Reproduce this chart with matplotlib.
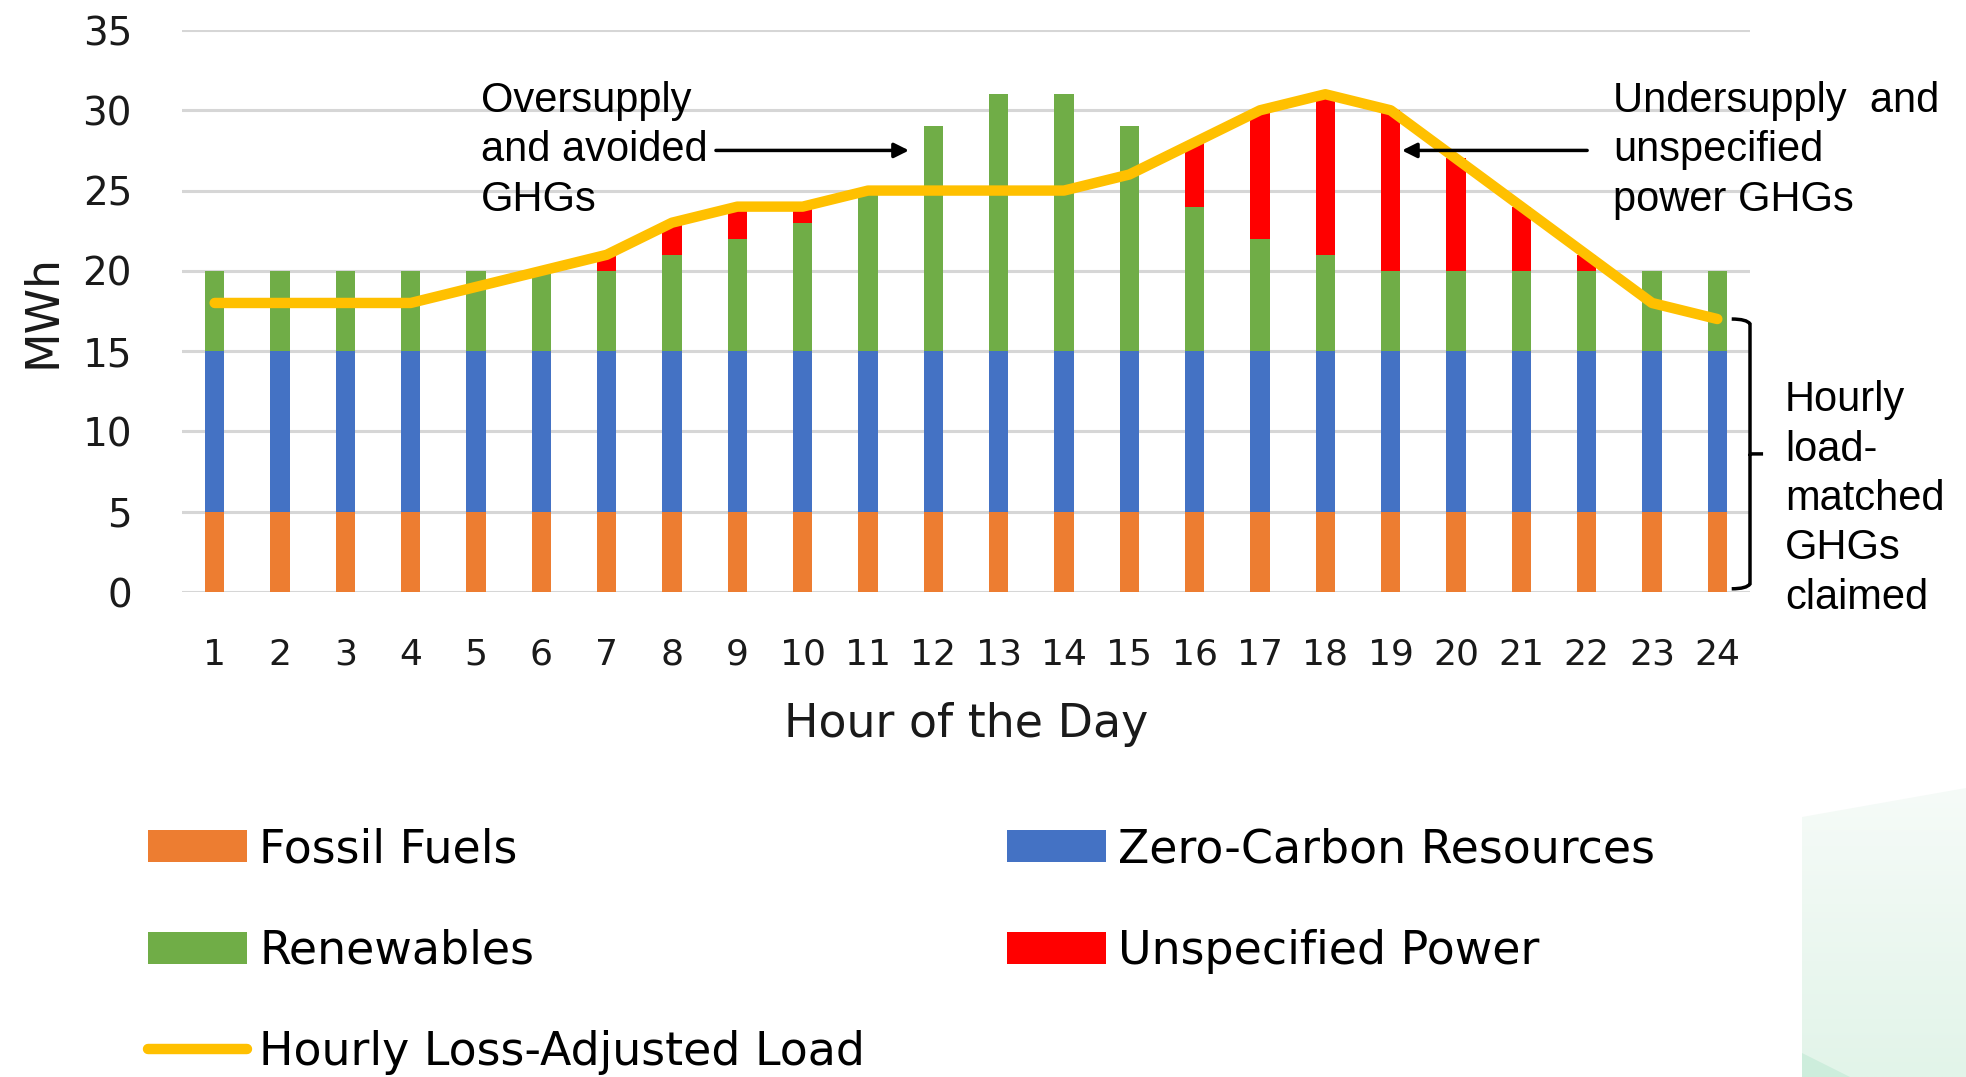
import matplotlib
matplotlib.use("Agg")
import matplotlib.pyplot as plt
import numpy as np
from matplotlib.patches import Polygon, PathPatch
from matplotlib.path import Path
from matplotlib.colors import LinearSegmentedColormap

hours = list(range(1, 25))
fossil = [5] * 24
zero_carbon = [10] * 24
renewables = [5, 5, 5, 5, 5, 5, 5, 6, 7, 8, 10, 14, 16, 16, 14, 9, 7, 6, 5, 5, 5, 5, 5, 5]
unspecified = [0, 0, 0, 0, 0, 0, 1, 2, 2, 1, 0, 0, 0, 0, 0, 4, 8, 10, 10, 7, 4, 1, 0, 0]
load = [18, 18, 18, 18, 19, 20, 21, 23, 24, 24, 25, 25, 25, 25, 26, 28, 30, 31, 30, 27, 24, 21, 18, 17]
yticks = [0, 5, 10, 15, 20, 25, 30, 35]

c_fossil = "#ED7D31"
c_zero = "#4472C4"
c_ren = "#70AD47"
c_uns = "#FF0000"
c_load = "#FFC000"

W, H = 1966, 1077
fig = plt.figure(figsize=(W / 100, H / 100), dpi=100)

# decorative background shape (bottom right)
bg = fig.add_axes([0, 0, 1, 1], zorder=-10)
bg.set_xlim(0, W)
bg.set_ylim(H, 0)
bg.axis("off")
grad = np.linspace(0, 1, 256).reshape(-1, 1)
cm = LinearSegmentedColormap.from_list("g", ["#F6FBF8", "#E2F4E9"])
im = bg.imshow(grad, cmap=cm, extent=[1802, W, H, 788], aspect="auto", zorder=0)
clip = Polygon([[1802, 817], [W, 788], [W, H], [1802, H]], closed=True, transform=bg.transData)
im.set_clip_path(clip)
bg.add_patch(Polygon([[1802, 1053], [1850, H], [1802, H]], closed=True, facecolor="#CDEDDC", edgecolor="none"))

ax = fig.add_axes([182 / W, 1 - 592 / H, (1750 - 182) / W, (592 - 30) / H])
x = np.array(hours)
bw = 0.3
b1 = ax.bar(x, fossil, bw, color=c_fossil, zorder=2, label="Fossil Fuels")
b2 = ax.bar(x, zero_carbon, bw, bottom=fossil, color=c_zero, zorder=2, label="Zero-Carbon Resources")
base2 = np.array(fossil) + np.array(zero_carbon)
b3 = ax.bar(x, renewables, bw, bottom=base2, color=c_ren, zorder=2, label="Renewables")
base3 = base2 + np.array(renewables)
b4 = ax.bar(x, unspecified, bw, bottom=base3, color=c_uns, zorder=2, label="Unspecified Power")
ln, = ax.plot(x, load, color=c_load, lw=7.5, solid_capstyle="round", solid_joinstyle="round", zorder=3,
              label="Hourly Loss-Adjusted Load")

ax.set_xlim(0.5, 24.5)
ax.set_ylim(0, 35)
ax.set_yticks(yticks)
ax.set_xticks(hours)
ax.yaxis.grid(True, color="#D6D6D6", lw=2.2, zorder=0)
ax.set_axisbelow(True)
for s in ax.spines.values():
    s.set_visible(False)
ax.tick_params(length=0)
ax.tick_params(axis="y", labelsize=28, pad=36)
ax.tick_params(axis="x", labelsize=26, pad=33)
for lab in ax.get_xticklabels() + ax.get_yticklabels():
    lab.set_color("#1a1a1a")
ax.set_xlabel("Hour of the Day", fontsize=33, labelpad=22, color="#1a1a1a")
ax.set_ylabel("MWh", fontsize=33, labelpad=12, color="#1a1a1a")

afont = dict(family="Liberation Sans", fontsize=30, color="black", linespacing=1.3)
ax.text(5.08, 27.5, "Oversupply\nand avoided\nGHGs", ha="left", va="center", **afont)
ax.annotate("", xy=(11.67, 27.5), xytext=(8.63, 27.5),
            arrowprops=dict(arrowstyle="-|>", color="black", lw=2.5, mutation_scale=22))
ax.text(22.41, 27.5, "Undersupply  and\nunspecified\npower GHGs", ha="left", va="center", **afont)
ax.annotate("", xy=(19.13, 27.5), xytext=(22.05, 27.5),
            arrowprops=dict(arrowstyle="-|>", color="black", lw=2.5, mutation_scale=22))

# brace
xv, xh, xt = 24.5, 24.22, 24.7
yt, yb, ym = 17.0, 0.2, 8.6
verts = [(xh, yt), (xv - 0.05, yt), (xv, yt - 0.3), (xv, ym + 0.2), (xv, ym), (xt, ym),
         (xv, ym), (xv, yb + 0.3), (xv - 0.05, yb), (xh, yb)]
codes = [Path.MOVETO, Path.CURVE3, Path.CURVE3, Path.LINETO, Path.LINETO, Path.LINETO,
         Path.MOVETO, Path.LINETO, Path.CURVE3, Path.CURVE3]
ax.add_patch(PathPatch(Path(verts, codes), facecolor="none", edgecolor="black", lw=2.5, clip_on=False))
fig.text(1785 / W, 1 - 499 / H, "Hourly\nload-\nmatched\nGHGs\nclaimed", ha="left", va="center",
         family="Liberation Sans", fontsize=30, linespacing=1.3)

handles = [b1, b3, ln, b2, b4]
labels = [h.get_label() for h in handles]
fig.legend(handles, labels, loc="upper left", bbox_to_anchor=(0.0661, 0.2489), ncol=2, frameon=False,
           fontsize=33, handlelength=2.15, handleheight=0.7, handletextpad=0.27, labelspacing=1.23,
           columnspacing=3.1, borderpad=0.4, borderaxespad=0)

fig.savefig("out.png", dpi=100)
